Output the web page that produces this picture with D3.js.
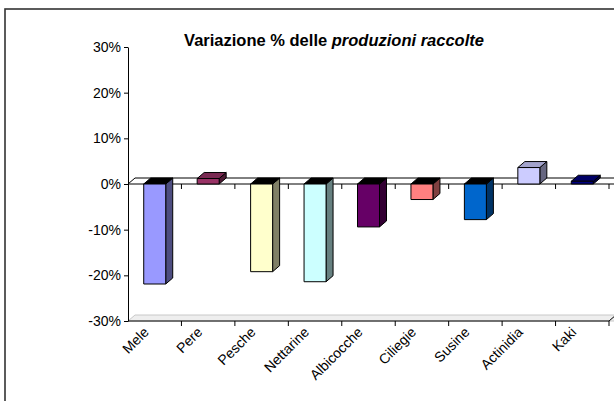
<!DOCTYPE html>
<html>
<head>
<meta charset="utf-8">
<script src="https://cdn.jsdelivr.net/npm/d3@7"></script>
<style>
  body { margin: 0; background: #fff; }
  svg { display: block; font-family: "Liberation Sans", Arial, sans-serif; }
</style>
</head>
<body>
<div id="chart"></div>
<script>
// data
var categories = ["Mele", "Pere", "Pesche", "Nettarine", "Albicocche", "Ciliegie", "Susine", "Actinidia", "Kaki"];
var values = [-21.9, 1.2, -19.2, -21.4, -9.4, -3.4, -7.8, 3.6, 0.6];
var colors = ["#9999ff", "#993366", "#ffffcc", "#ccffff", "#660066", "#ff8080", "#0066cc", "#ccccff", "#000080"];
var yTicks = [-30, -20, -10, 0, 10, 20, 30];

var W = 614, H = 401;
var dx = 7, dy = -6;   // depth of the 3d effect
var barW = 22;

var svg = d3.select("#chart").append("svg").attr("width", W).attr("height", H);

// frame
svg.append("rect")
    .attr("x", 5).attr("y", 9)
    .attr("width", 640).attr("height", 420)
    .attr("fill", "none")
    .attr("stroke", "#333")
    .attr("stroke-width", 1.6);

var x = d3.scaleBand().domain(categories).range([128, 609]);
var y = d3.scaleLinear().domain([-30, 30]).range([321, 47]);
var bw = x.bandwidth();
var bounds = categories.map(function(c) { return x(c); }).concat([x.range()[1]]);

// title
var title = svg.append("text")
    .attr("x", 334).attr("y", 46)
    .attr("text-anchor", "middle")
    .attr("font-size", 16.5)
    .attr("font-weight", "bold");
title.append("tspan").text("Variazione % delle ");
title.append("tspan").attr("font-style", "italic").text("produzioni raccolte");

// floor (slab at -30%)
var y30 = y(-30);
svg.append("polygon")
    .attr("points", [[128, y30], [128 + dx, y30 + dy], [W + 5, y30 + dy], [W + 5, y30]].join(" "))
    .attr("fill", "#eeeeee")
    .attr("stroke", "#c8c8c8")
    .attr("stroke-width", 1);
svg.append("line")
    .attr("x1", 128).attr("x2", 609)
    .attr("y1", y30).attr("y2", y30)
    .attr("stroke", "#000");
svg.append("line")
    .attr("x1", 609).attr("x2", 609 + dx)
    .attr("y1", y30).attr("y2", y30 + dy)
    .attr("stroke", "#000");
svg.selectAll(".btick").data(bounds.slice(1)).enter().append("line")
    .attr("x1", function(d) { return d; }).attr("x2", function(d) { return d; })
    .attr("y1", y30).attr("y2", y30 + 5)
    .attr("stroke", "#000");

// y axis
var yAxis = svg.append("g")
    .attr("transform", "translate(128,0)")
    .call(d3.axisLeft(y).tickValues(yTicks).tickSize(4).tickSizeOuter(0).tickFormat(function(d) { return d + "%"; }));
yAxis.select(".domain").attr("stroke", "#000");
yAxis.selectAll("text").attr("font-size", 14).attr("fill", "#000").attr("x", -7)
    .attr("font-family", "'Liberation Sans', Arial, sans-serif");

// zero plane
var y0 = y(0);
svg.append("line")
    .attr("x1", 128 + dx).attr("x2", W)
    .attr("y1", y0 + dy).attr("y2", y0 + dy)
    .attr("stroke", "#000");
svg.append("line")
    .attr("x1", 128).attr("x2", 128 + dx)
    .attr("y1", y0).attr("y2", y0 + dy)
    .attr("stroke", "#000");
svg.append("line")
    .attr("x1", 128).attr("x2", W)
    .attr("y1", y0).attr("y2", y0)
    .attr("stroke", "#000");
svg.selectAll(".ztick").data(bounds.slice(1)).enter().append("line")
    .attr("x1", function(d) { return d; }).attr("x2", function(d) { return d; })
    .attr("y1", y0).attr("y2", y0 + 5)
    .attr("stroke", "#000");

// bars
categories.forEach(function(c, i) {
    var v = values[i];
    var col = colors[i];
    var bx = x(c) + (bw - barW) / 2;
    var yv = y(v);
    var yTop = Math.min(yv, y0), yBot = Math.max(yv, y0);
    var g = svg.append("g").attr("stroke", "#000").attr("stroke-width", 1).attr("stroke-linejoin", "round");

    // side face
    g.append("polygon")
        .attr("points", [[bx + barW, yTop], [bx + barW + dx, yTop + dy], [bx + barW + dx, yBot + dy], [bx + barW, yBot]].join(" "))
        .attr("fill", d3.interpolateRgb(col, "#000")(0.5));
    // top face
    g.append("polygon")
        .attr("points", [[bx, yTop], [bx + dx, yTop + dy], [bx + barW + dx, yTop + dy], [bx + barW, yTop]].join(" "))
        .attr("fill", v < 0 ? "#000" : d3.interpolateRgb(col, "#000")(0.2));
    // front face
    g.append("rect")
        .attr("x", bx).attr("y", yTop)
        .attr("width", barW).attr("height", yBot - yTop)
        .attr("fill", col);
});

// category labels
svg.selectAll(".xlab").data(categories).enter().append("text")
    .attr("transform", function(d) { return "translate(" + (x(d) + bw / 2 - 5) + "," + (y30 + 12) + ") rotate(-45)"; })
    .attr("text-anchor", "end")
    .attr("font-size", 14)
    .text(function(d) { return d; });
</script>
</body>
</html>
